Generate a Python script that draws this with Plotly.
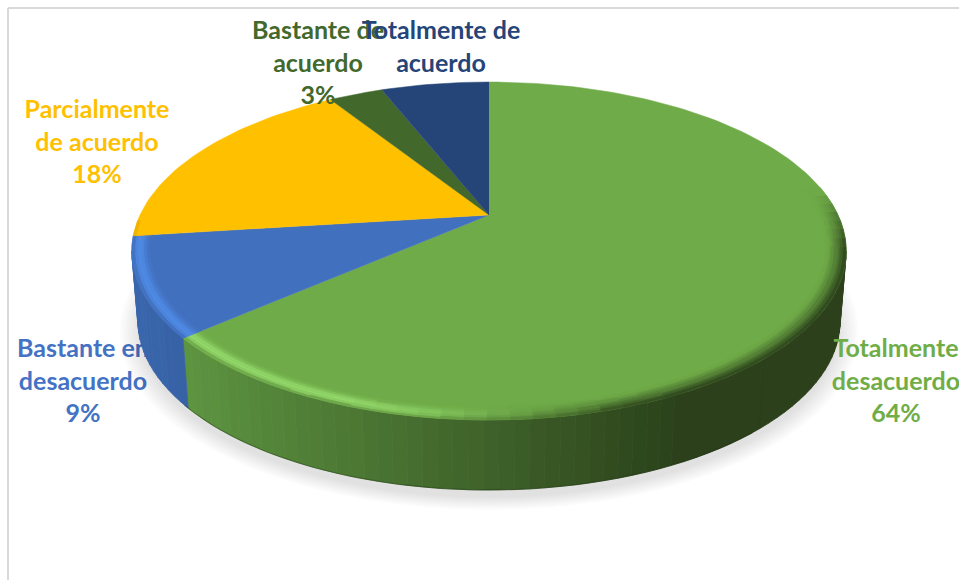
import math
import plotly.graph_objects as go

# --- data ---
categories = ["Totalmente en desacuerdo", "Bastante en desacuerdo", "Parcialmente de acuerdo",
              "Bastante de acuerdo", "Totalmente de acuerdo"]
values = [63.6, 9.4, 18.0, 3.0, 6.0]
slice_colors = ["#6FAB48", "#4170BF", "#FFC000", "#43682B", "#254478"]
highlight_colors = ["#93D86B", "#4F8AE4", "#FFC000", "#43682B", "#254478"]
wall_colors_left = ["#5C9340", "#3A66AD", "#C79500", "#33501F", "#1A3258"]
wall_colors_right = ["#2B411B", "#2F5590", "#9A7300", "#33501F", "#1A3258"]
label_lines = [["Totalmente", "desacuerdo"], ["Bastante en", "desacuerdo"], ["Parcialmente", "de acuerdo"],
               ["Bastante de", "acuerdo"], ["Totalmente de", "acuerdo"]]
label_colors = ["#70AD47", "#4472C4", "#FFC000", "#43682B", "#264478"]
show_percent = [True, True, True, True, False]
label_anchor = [(896, 351), (83, 351), (97, 112), (318, 33), (441, 33)]

# --- projection ---
W, H = 959, 580
CX, CY, A, B, K = 489.0, 215.0, 349.0, 161.3, 0.213
DEPTH, BOTTOM_X = 70.0, 0.983


def project(r, t, dz=0.0, xs=1.0):
    rad = math.radians(t)
    u, v = r * math.sin(rad), r * math.cos(rad)
    d = 1 + K * v
    return CX + A * u / d * xs, CY - B * v / d + dz


def rgb(h):
    return tuple(int(h[i:i + 2], 16) for i in (1, 3, 5))


def mix(c1, c2, f):
    f = max(0.0, min(1.0, f))
    return tuple(c1[i] + (c2[i] - c1[i]) * f for i in range(3))


def css(c):
    return "rgb(%d,%d,%d)" % tuple(int(round(x / 2) * 2) for x in c)


def wall_color(i, x):
    # darkens from the left of the pie towards the right of the pie
    f = (x - 190) / (680 - 190)
    if i == 1:
        f = (x - 130) / 60 * 0.3
    return mix(rgb(wall_colors_left[i]), rgb(wall_colors_right[i]), f)


fig = go.Figure()


def add_poly(xs, ys, color, line=1.0):
    fig.add_trace(go.Scatter(x=xs, y=ys, mode="lines", fill="toself", fillcolor=color,
                             line=dict(color=color, width=line), hoverinfo="skip", showlegend=False))


def add_groups(groups):
    for color, polys in groups.items():
        xs, ys = [], []
        for p in polys:
            xs += [q[0] for q in p] + [p[0][0], None]
            ys += [q[1] for q in p] + [p[0][1], None]
        add_poly(xs, ys, color, 0.8)


# slice angle ranges (clockwise from 12 o'clock)
total = sum(values)
ranges, acc = [], 0.0
for val in values:
    ranges.append((acc * 360 / total, (acc + val) * 360 / total))
    acc += val

label_font = dict(family="Lato, Carlito, sans-serif", size=25)


def add_label(i):
    ax, ay = label_anchor[i]
    lines = list(label_lines[i])
    if show_percent[i]:
        lines.append("<b>%d%%</b>" % round(values[i] * 100 / total))
    ys = [ay + n * 32.5 for n in range(len(lines))]
    fig.add_trace(go.Scatter(x=[ax] * len(lines), y=ys, mode="text",
                             text=["<b>%s</b>" % s if not s.startswith("<b>") else s for s in lines],
                             textposition="middle center",
                             textfont=dict(color=label_colors[i], **label_font),
                             hoverinfo="skip", showlegend=False, cliponaxis=False))


# label that sits behind the pie
add_label(1)

# soft shadow under the disc
for n in range(10):
    s = 1.05 - n * 0.006
    pts = [project(s, t, DEPTH + 3 + n * 0.2 + 4, BOTTOM_X) for t in range(0, 361, 4)]
    add_poly([p[0] for p in pts], [p[1] for p in pts], "rgba(0,0,0,0.011)", 0)

# side wall
T_R, T_L = 102.3, 257.7
groups = {}
for i, (a, b) in enumerate(ranges):
    lo, hi = max(a, T_R), min(b, T_L)
    if lo >= hi:
        continue
    n = max(1, int((hi - lo) / 2.0))
    for k in range(n):
        t1, t2 = lo + (hi - lo) * k / n, lo + (hi - lo) * (k + 1) / n
        p1, p2 = project(1, t1), project(1, t2)
        p3, p4 = project(1, t2, DEPTH, BOTTOM_X), project(1, t1, DEPTH, BOTTOM_X)
        c = css(wall_color(i, (p1[0] + p2[0]) / 2))
        groups.setdefault(c, []).append([p1, p2, p3, p4])
add_groups(groups)

# thin dark lower edge of the wall
edge = [project(1, t, DEPTH, BOTTOM_X) for t in range(140, 231, 2)]
fig.add_trace(go.Scatter(x=[p[0] for p in edge], y=[p[1] for p in edge], mode="lines",
                         line=dict(color="rgba(20,40,10,0.35)", width=1.2),
                         hoverinfo="skip", showlegend=False))

# top faces
for i, (a, b) in enumerate(ranges):
    n = max(2, int((b - a) / 1.5))
    pts = [(CX, CY)] + [project(1, a + (b - a) * k / n) for k in range(n + 1)]
    add_poly([p[0] for p in pts], [p[1] for p in pts], slice_colors[i], 0.5)

# bevel along the front of the rim
R_IN, STEPS = 0.945, 7
groups = {}
for i, (a, b) in enumerate(ranges):
    if i > 2:
        continue
    lo, hi = max(a, 80.0), min(b, 268.0)
    if lo >= hi:
        continue
    n = max(1, int((hi - lo) / 3.0))
    for k in range(n):
        t1, t2 = lo + (hi - lo) * k / n, lo + (hi - lo) * (k + 1) / n
        tm = math.radians((t1 + t2) / 2)
        u, v = math.sin(tm), math.cos(tm)
        fade = max(0.0, min(1.0, (0.15 - v) / 0.35))
        hl = max(0.0, min(1.0, (0.2 - u) / 0.55)) * max(0.0, min(1.0, (0.4 - v) / 0.3))
        dark = max(0.0, min(1.0, (u + 0.15) / 0.45)) * fade
        for s in range(STEPS):
            r1 = R_IN + (1 - R_IN) * s / STEPS
            r2 = R_IN + (1 - R_IN) * (s + 1) / STEPS
            p = (s + 0.5) / STEPS
            pt = project(1, (t1 + t2) / 2)
            wc = wall_color(i, pt[0])
            col = mix(rgb(slice_colors[i]), rgb(highlight_colors[i]),
                      hl * math.exp(-((p - 0.62) / 0.3) ** 2))
            col = mix(col, wc, dark * p ** 1.4)
            if p > 0.8:
                col = mix(col, wc, hl * (p - 0.8) * 2.2)
            c = css(col)
            groups.setdefault(c, []).append([project(r1, t1), project(r1, t2), project(r2, t2), project(r2, t1)])
add_groups(groups)

for i in (0, 2, 3, 4):
    add_label(i)

fig.update_layout(
    width=W, height=H, margin=dict(l=0, r=0, t=0, b=0),
    paper_bgcolor="white", plot_bgcolor="white", showlegend=False,
    xaxis=dict(range=[0, W], visible=False, fixedrange=True),
    yaxis=dict(range=[H, 0], visible=False, fixedrange=True),
    shapes=[
        dict(type="line", xref="x", yref="y", x0=8, x1=8, y0=8, y1=H, line=dict(color="#D9D9D9", width=2)),
        dict(type="line", xref="x", yref="y", x0=8, x1=W, y0=8, y1=8, line=dict(color="#D9D9D9", width=2)),
    ],
)
fig.write_html("out.html", config=dict(displayModeBar=False),
               post_script="document.body.style.margin='0';document.body.style.overflow='hidden';")
